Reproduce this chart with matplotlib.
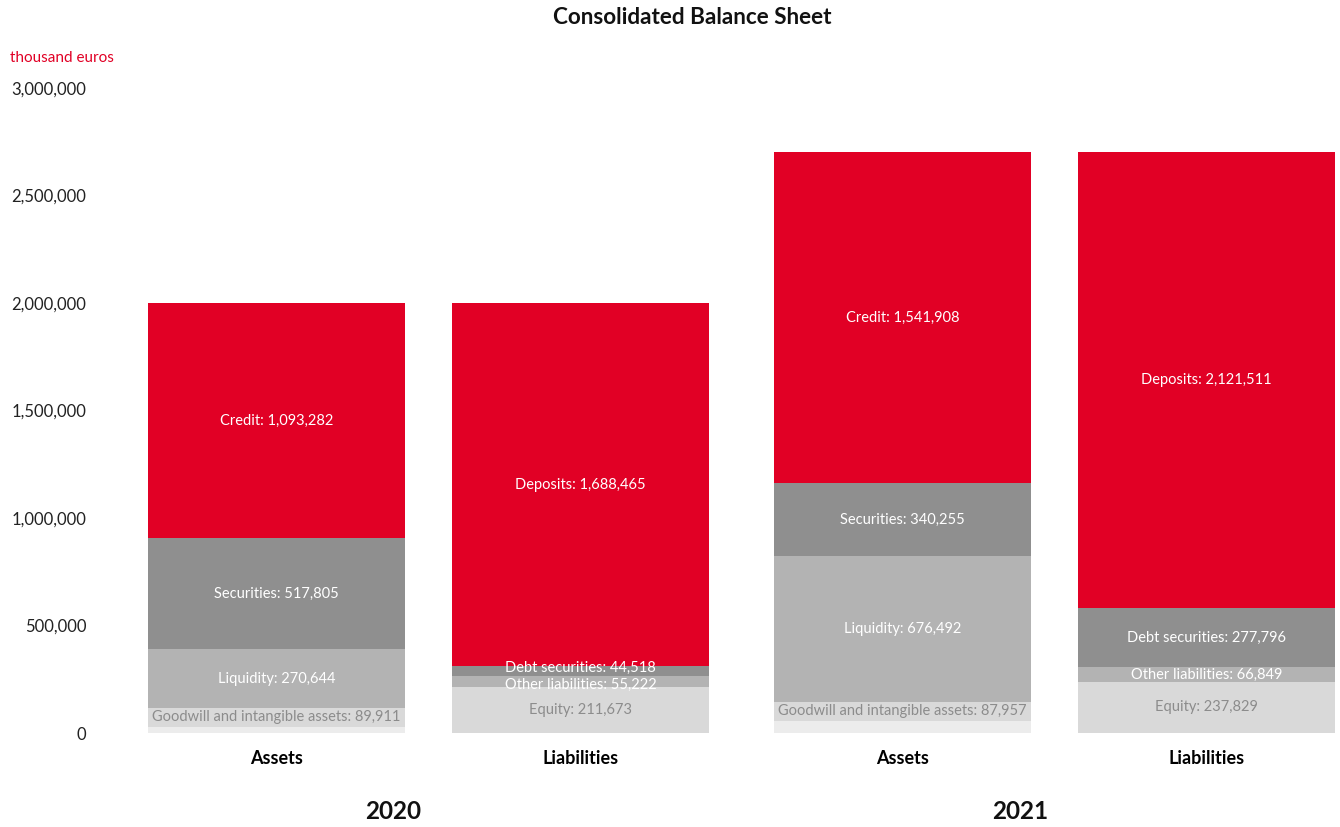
import matplotlib
matplotlib.use("Agg")
import matplotlib.pyplot as plt
from matplotlib.ticker import FuncFormatter

# data (thousand euros)
years = ["2020", "2021"]
bar_labels = ["Assets", "Liabilities", "Assets", "Liabilities"]

asset_items = ["Other assets", "Goodwill and intangible assets", "Liquidity", "Securities", "Credit"]
assets_2020 = [28236, 89911, 270644, 517805, 1093282]
assets_2021 = [57373, 87957, 676492, 340255, 1541908]

liab_items = ["Equity", "Other liabilities", "Debt securities", "Deposits"]
liab_2020 = [211673, 55222, 44518, 1688465]
liab_2021 = [237829, 66849, 277796, 2121511]

# styles
RED = "#e10025"
asset_colors = ["#ececec", "#d9d9d9", "#b3b3b3", "#8f8f8f", RED]
asset_text = [None, "#8c8c8c", "white", "white", "white"]
asset_nudge = [0, 0, 0, 0, 0]
liab_colors = ["#d9d9d9", "#b3b3b3", "#8f8f8f", RED]
liab_text = ["#8c8c8c", "white", "white", "white"]
liab_nudge = [0, -2.5, 2, 0]  # points, only used on thin segments

positions = [0, 1, 2.06, 3.06]
bar_width = 0.845

plt.rcParams['font.family'] = ['Lato', 'DejaVu Sans']

fig = plt.figure(figsize=(13.4, 8.27), dpi=100)
ax = fig.add_axes([100 / 1340, 94 / 827, 1240 / 1340, 645 / 827])


def draw_stack(x, items, values, colors, text_colors, nudges):
    bottom = 0
    for name, v, c, tc, dy in zip(items, values, colors, text_colors, nudges):
        ax.bar(x, v, bottom=bottom, width=bar_width, color=c, linewidth=0)
        if tc is not None:
            if v > 60000:
                dy = 0
            ax.annotate("%s: %s" % (name, format(v, ",")), (x, bottom + v / 2),
                        xytext=(0, dy), textcoords="offset points",
                        ha="center", va="center", color=tc, fontsize=10.5)
        bottom += v


stacks = [(asset_items, assets_2020, asset_colors, asset_text, asset_nudge),
          (liab_items, liab_2020, liab_colors, liab_text, liab_nudge),
          (asset_items, assets_2021, asset_colors, asset_text, asset_nudge),
          (liab_items, liab_2021, liab_colors, liab_text, liab_nudge)]
for x, stack in zip(positions, stacks):
    draw_stack(x, *stack)

ax.set_xlim((100 - 276.5) / 304, (1340 - 276.5) / 304)
ax.set_ylim(0, 3000000)
ax.set_yticks(range(0, 3000001, 500000))
ax.yaxis.set_major_formatter(FuncFormatter(lambda v, p: format(int(v), ",")))
ax.tick_params(axis="y", length=0, pad=10, labelsize=12, labelcolor="#222222")
ax.set_xticks(positions)
ax.set_xticklabels(bar_labels, fontsize=13, fontweight="bold")
ax.tick_params(axis="x", length=0, pad=12)
for s in ax.spines.values():
    s.set_visible(False)

# year labels under each pair (sit a bit left of the pair centre)
for i, yr in enumerate(years):
    xc = (positions[2 * i] + positions[2 * i + 1]) / 2 - 0.115
    ax.text(xc, -0.122, yr, transform=ax.get_xaxis_transform(), ha="center", va="center",
            fontsize=17.5, fontweight="bold", color="#111111")

fig.text(692 / 1340, 1 - 17 / 827, "Consolidated Balance Sheet", ha="center", va="center",
         fontsize=16.2, fontweight="bold", color="#111111")
fig.text(10 / 1340, 1 - 58 / 827, "thousand euros", ha="left", va="center",
         fontsize=11, color=RED)

fig.savefig("out.png", dpi=100)
